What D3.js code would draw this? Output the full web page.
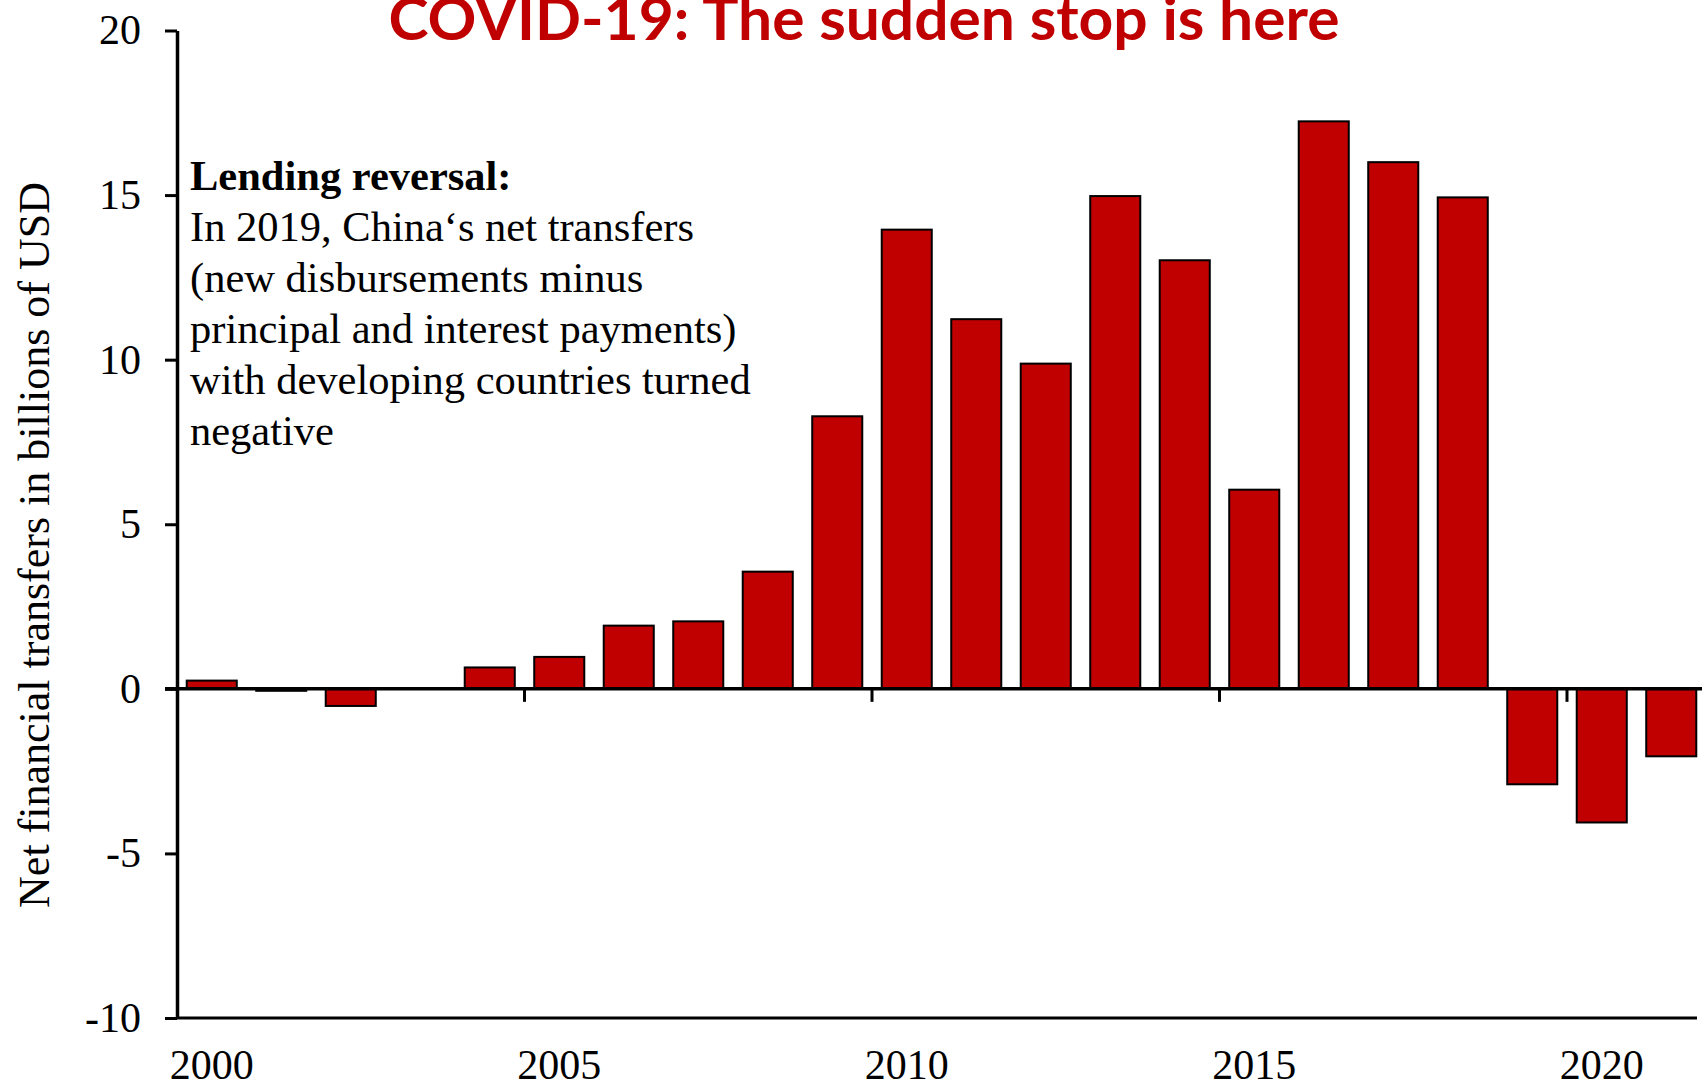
<!DOCTYPE html>
<html>
<head>
<meta charset="utf-8">
<script src="https://cdn.jsdelivr.net/npm/d3@7"></script>
<style>
  body { margin: 0; background: #fff; }
  svg { display: block; }
</style>
</head>
<body>
<svg width="1702" height="1087"></svg>
<script>
// data
const years = ['2000', '2001', '2002', '2003', '2004', '2005', '2006', '2007', '2008', '2009', '2010',
    '2011', '2012', '2013', '2014', '2015', '2016', '2017', '2018', '2019', '2020', '2021'];
const transfers = [0.25, -0.06, -0.52, 0, 0.65, 0.97, 1.92, 2.05, 3.56, 8.28, 13.95,
    11.23, 9.88, 14.97, 13.02, 6.05, 17.24, 16.0, 14.93, -2.9, -4.06, -2.05];
const yTicks = [-10, -5, 0, 5, 10, 15, 20];
const labelYears = ['2000', '2005', '2010', '2015', '2020'];
const boundaryYears = ['2005', '2010', '2015', '2020'];
const title = 'COVID-19: The sudden stop is here';
const yTitle = 'Net financial transfers in billions of USD';
const noteHead = 'Lending reversal:';
const noteLines = [
    'In 2019, China\u2018s net transfers',
    '(new disbursements minus',
    'principal and interest payments)',
    'with developing countries turned',
    'negative'
];

const data = years.map((yr, i) => ({ year: yr, value: transfers[i] }));

const svg = d3.select('svg');
const red = '#c00000';
const serif = '"Liberation Serif", "Times New Roman", serif';

// scales
const x = d3.scaleBand()
    .domain(years)
    .range([177, 177 + 22 * 69.5])
    .paddingInner(0.28)
    .paddingOuter(0.14);
const y = d3.scaleLinear().domain([-10, 20]).range([1018, 30.5]);

// bars
svg.selectAll('.bar')
    .data(data)
    .enter()
    .append('rect')
    .attr('class', 'bar')
    .attr('x', (d) => x(d.year))
    .attr('y', (d) => y(Math.max(0, d.value)))
    .attr('width', x.bandwidth())
    .attr('height', (d) => Math.abs(y(d.value) - y(0)))
    .attr('fill', red)
    .attr('stroke', '#000')
    .attr('stroke-width', 2);

// zero line
svg.append('line')
    .attr('x1', 165)
    .attr('x2', 1702)
    .attr('y1', y(0))
    .attr('y2', y(0))
    .attr('stroke', '#000')
    .attr('stroke-width', 3.5);

// tick marks between categories
svg.selectAll('.xtick')
    .data(boundaryYears)
    .enter()
    .append('line')
    .attr('class', 'xtick')
    .attr('x1', (d) => x(d) - x.step() * x.paddingInner() / 2)
    .attr('x2', (d) => x(d) - x.step() * x.paddingInner() / 2)
    .attr('y1', y(0))
    .attr('y2', y(0) + 13)
    .attr('stroke', '#000')
    .attr('stroke-width', 3);

// bottom axis (at -10)
const xAxis = svg.append('g')
    .attr('transform', `translate(0,${y(-10)})`)
    .call(d3.axisBottom(x).tickValues(labelYears).tickSize(0).tickSizeOuter(0).tickPadding(31));
xAxis.select('.domain')
    .attr('d', `M177,0H1697`)
    .attr('stroke', '#000')
    .attr('stroke-width', 3);
xAxis.selectAll('text')
    .attr('font-family', serif)
    .attr('font-size', 42)
    .attr('fill', '#000');

// y axis
const yAxis = svg.append('g')
    .attr('transform', 'translate(177,0)')
    .call(d3.axisLeft(y).tickValues(yTicks).tickFormat((d) => String(d))
        .tickSize(12).tickSizeOuter(0).tickPadding(24));
yAxis.select('.domain').attr('stroke-width', 3.5);
yAxis.selectAll('.tick line').attr('stroke-width', 3);
yAxis.selectAll('text')
    .attr('font-family', serif)
    .attr('font-size', 42)
    .attr('fill', '#000');

// y axis title
svg.append('text')
    .attr('transform', 'translate(49,545) rotate(-90)')
    .attr('text-anchor', 'middle')
    .attr('font-family', serif)
    .attr('font-size', 44)
    .attr('fill', '#000')
    .text(yTitle);

// chart title
svg.append('text')
    .attr('x', 864)
    .attr('y', 40)
    .attr('text-anchor', 'middle')
    .attr('font-family', 'Lato, "Open Sans", sans-serif')
    .attr('font-weight', 'bold')
    .attr('font-size', 60)
    .attr('textLength', 951)
    .attr('lengthAdjust', 'spacingAndGlyphs')
    .attr('fill', red)
    .text(title);

// annotation
const note = svg.append('text')
    .attr('x', 190)
    .attr('y', 190)
    .attr('font-family', serif)
    .attr('font-size', 42.5)
    .attr('fill', '#000');
note.append('tspan')
    .attr('x', 190)
    .attr('font-weight', 'bold')
    .text(noteHead);
noteLines.forEach((t) => {
    note.append('tspan')
        .attr('x', 190)
        .attr('dy', 51)
        .text(t);
});
</script>
</body>
</html>
